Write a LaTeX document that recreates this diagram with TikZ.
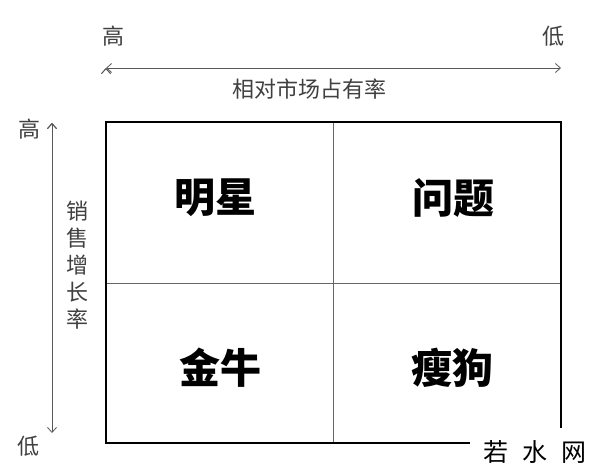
\documentclass[tikz,border=0pt]{standalone}
\usepackage{fontspec}
\usetikzlibrary{arrows.meta}
\newfontfamily\cjk{Noto Sans CJK SC}
\tikzset{
  axislabel/.style={font=\cjk\fontsize{22}{27}\selectfont, text=black!75, inner sep=0pt},
  axis/.style={{Straight Barb[length=5pt,width=9pt]}-{Straight Barb[length=5pt,width=9pt]}, draw=black!65, line width=0.8pt},
  quad/.style={font=\cjk\bfseries\fontsize{41}{42}\selectfont, inner sep=0pt},
  frame/.style={draw=black, line width=1.8pt},
  divider/.style={draw=black!60, line width=0.8pt},
}
\begin{document}
\begin{tikzpicture}[x=1pt, y=-1pt]
    \useasboundingbox[fill=white] (0,0) rectangle (600,475);

    % horizontal axis
    \node[axislabel](RS_hi) at (113,36) {高};
    \node[axislabel](RS_lo) at (553,36) {低};
    \coordinate (RS_l) at (106,68);
    \coordinate (RS_r) at (561,68);
    \path[axis] (RS_l) edge (RS_r);
    \node[axislabel](RS) at (309,89) {相对市场占有率};

    % vertical axis
    \node[axislabel](SG_hi) at (30,129) {高};
    \node[axislabel](SG_lo) at (28,446) {低};
    \coordinate (SG_t) at (52,123);
    \coordinate (SG_b) at (52,433);
    \path[axis] (SG_t) edge (SG_b);
    \node[axislabel, align=center](SG) at (77,265) {销\\售\\增\\长\\率};

    % matrix
    \coordinate (TL) at (106,122);
    \coordinate (TR) at (561,122);
    \coordinate (BL) at (106,443);
    \coordinate (R_end) at (561,428);
    \coordinate (B_end) at (470,443);
    \coordinate (M_t) at (333,122);
    \coordinate (M_b) at (333,443);
    \coordinate (M_l) at (106,283);
    \coordinate (M_r) at (561,283);
    \path[divider] (M_t) edge (M_b);
    \path[divider] (M_l) edge (M_r);
    \draw[frame] (R_end) -- (TR) -- (TL) -- (BL) -- (B_end);

    \node[quad](Star) at (215,198) {明星};
    \node[quad](Question) at (453,198) {问题};
    \node[quad](Cow) at (220,368) {金牛};
    \node[quad](Dog) at (452,368) {瘦狗};

    % watermark
    \node[font=\cjk\fontsize{25}{25}\selectfont, inner sep=0pt](Mark) at (535,452) {若\hspace{14pt}水\hspace{14pt}网};
\end{tikzpicture}
\end{document}
